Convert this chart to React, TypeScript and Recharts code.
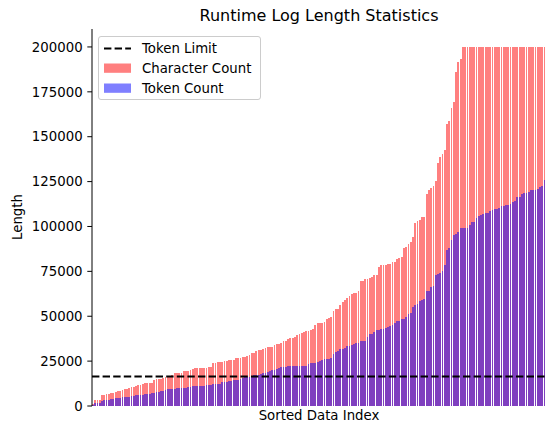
import React from 'react';
import { BarChart, Bar, XAxis, YAxis, ReferenceLine, Legend } from 'recharts';

// Character count per log, sorted (capped at 200000)
const characterCounts: number[] = [
  1100, 3300, 3300, 3600, 6100, 6100, 6500, 6700, 7000, 7400,
  7800, 8400, 8400, 8700, 9300, 9600, 10200, 10800, 10800, 11000,
  11500, 11700, 12300, 12700, 12700, 13000, 13000, 14500, 14900, 15000,
  15200, 15500, 16000, 16700, 16700, 17000, 18200, 18200, 18500, 18500,
  19500, 19700, 19700, 20000, 20700, 21000, 21000, 21000, 21000, 21000,
  21300, 21700, 21700, 23800, 24000, 24300, 24500, 24500, 24900, 25200,
  25400, 25600, 25900, 26500, 26500, 27000, 27200, 27500, 27800, 28600,
  29300, 29600, 30700, 31200, 31300, 31800, 32300, 32900, 32900, 32900,
  33900, 34500, 34500, 35200, 36000, 36400, 37300, 37700, 38000, 38600,
  39500, 40000, 40500, 41200, 41800, 41800, 42300, 42700, 45100, 46100,
  46100, 46100, 47000, 48300, 48800, 49800, 53100, 54000, 54000, 56300,
  58100, 59000, 60000, 61300, 62400, 62800, 63100, 64200, 69600, 69800,
  70600, 70600, 71100, 72000, 73000, 73000, 77600, 78500, 78500, 78500,
  78900, 78900, 80200, 80200, 82000, 82600, 83200, 87800, 88700, 90200,
  91400, 94300, 102100, 103000, 103600, 105300, 105300, 118100, 120300, 121300,
  122600, 125300, 135400, 138700, 140400, 142600, 157100, 158900, 166000, 169500,
  186200, 191800, 193100, 200000, 200000, 200000, 200000, 200000, 200000, 200000,
  200000, 200000, 200000, 200000, 200000, 200000, 200000, 200000, 200000, 200000,
  200000, 200000, 200000, 200000, 200000, 200000, 200000, 200000, 200000, 200000,
  200000, 200000, 200000, 200000, 200000, 200000, 200000, 200000, 200000, 200000,
];

// Token count per log, same order
const tokenCounts: number[] = [
  700, 1500, 1900, 1900, 3000, 3300, 3300, 3300, 3700, 4000,
  4300, 4400, 4600, 4800, 5000, 5200, 5200, 5600, 5800, 6000,
  6100, 6100, 6300, 6500, 6700, 6900, 7100, 7500, 7800, 8000,
  8200, 8400, 8800, 9300, 9400, 9500, 9700, 10000, 10000, 10000,
  10000, 10000, 10400, 10800, 11100, 11100, 11100, 11100, 11100, 11100,
  11700, 11700, 11700, 12000, 12300, 12300, 12300, 13400, 13400, 13500,
  13800, 14000, 14500, 14500, 14500, 15200, 15600, 15900, 16300, 16300,
  16300, 17100, 17100, 17100, 17700, 18200, 18500, 18900, 19600, 20000,
  20300, 20800, 21200, 21500, 21900, 21900, 22100, 22100, 22300, 22300,
  22300, 22300, 22300, 22300, 22400, 23400, 23700, 24100, 24100, 24500,
  25100, 25600, 26000, 26400, 26400, 26900, 29000, 30100, 30800, 31600,
  32000, 32300, 33400, 33400, 33800, 34500, 34900, 35300, 36000, 36400,
  36400, 38600, 40100, 40100, 41400, 42300, 42300, 42900, 42900, 43300,
  44200, 44600, 45000, 46100, 47300, 47300, 48500, 48500, 49500, 51200,
  51600, 55000, 56300, 56800, 58500, 59000, 59800, 64100, 64100, 66100,
  66800, 73000, 73500, 74300, 75400, 78500, 86900, 87800, 92500, 95300,
  95800, 96900, 99100, 99100, 99100, 99100, 101000, 102500, 102500, 104900,
  106000, 106400, 107000, 107300, 107500, 108500, 109000, 109500, 110000, 110200,
  111200, 111300, 111700, 112000, 112500, 113500, 114200, 116600, 116600, 118100,
  118800, 118800, 119000, 120300, 120300, 120300, 121000, 122200, 122600, 125900,
];

const tokenLimit = 16384;
const yTicks: number[] = [0, 25000, 50000, 75000, 100000, 125000, 150000, 175000, 200000];
const seriesLabels = { limit: 'Token Limit', chars: 'Character Count', tokens: 'Token Count' };
const titleText = 'Runtime Log Length Statistics';
const xLabelText = 'Sorted Data Index';
const yLabelText = 'Length';

const data = characterCounts.map((c, i) => ({ idx: i, chars: c, tokens: tokenCounts[i] }));

const FONT = '"DejaVu Sans", sans-serif';
const PLOT_WIDTH = 454;
const BAR_SIZE = (PLOT_WIDTH / characterCounts.length) * 0.8;

const LegendBox = () => (
  <div
    style={{
      width: 163,
      height: 64,
      boxSizing: 'border-box',
      border: '1px solid #cccccc',
      borderRadius: 3,
      background: 'rgba(255,255,255,0.8)',
      fontFamily: FONT,
      fontSize: 13.3,
      color: '#000',
      position: 'relative',
    }}
  >
    <svg width={163} height={64} style={{ position: 'absolute', left: 0, top: 0 }}>
      <line x1={5} x2={32} y1={11.5} y2={11.5} stroke="#000" strokeWidth={2} strokeDasharray="7.4 3.2" />
      <rect x={5} y={26.5} width={27} height={9.3} fill="rgba(255,0,0,0.5)" />
      <rect x={5} y={46.5} width={27} height={9.3} fill="rgba(0,0,255,0.5)" />
      <text x={43} y={11.5} dominantBaseline="central" fontFamily={FONT} fontSize={13.3} fill="#000">{seriesLabels.limit}</text>
      <text x={43} y={31.2} dominantBaseline="central" fontFamily={FONT} fontSize={13.3} fill="#000">{seriesLabels.chars}</text>
      <text x={43} y={51.2} dominantBaseline="central" fontFamily={FONT} fontSize={13.3} fill="#000">{seriesLabels.tokens}</text>
    </svg>
  </div>
);

export default function App() {
  return (
    <div style={{ position: 'absolute', left: 0, top: 0, width: 545, height: 424, overflow: 'hidden', background: '#fff' }}>
      <BarChart
        width={92 + PLOT_WIDTH + 2}
        height={424}
        data={data}
        margin={{ top: 29, right: 2, bottom: 18, left: 0 }}
        barCategoryGap="20%"
        barGap={0}
      >
        <XAxis xAxisId="c" dataKey="idx" tick={false} tickLine={false} axisLine={{ stroke: '#000', strokeWidth: 1 }} height={0} />
        <XAxis xAxisId="t" dataKey="idx" hide />
        <XAxis xAxisId="top" orientation="top" dataKey="idx" tick={false} tickLine={false} axisLine={{ stroke: '#000', strokeWidth: 1 }} height={0} />
        <YAxis
          domain={[0, 210000]}
          ticks={yTicks}
          width={92}
          tickSize={4.7}
          tickMargin={4.7}
          interval={0}
          allowDataOverflow
          axisLine={{ stroke: '#000', strokeWidth: 1 }}
          tickLine={{ stroke: '#000', strokeWidth: 1 }}
          tick={{ fontSize: 13.3, fill: '#000', fontFamily: FONT }}
        />
        <Bar xAxisId="c" dataKey="chars" name={seriesLabels.chars} fill="rgba(255,0,0,0.5)" barSize={BAR_SIZE} shapeRendering="crispEdges" isAnimationActive={false} />
        <Bar xAxisId="t" dataKey="tokens" name={seriesLabels.tokens} fill="rgba(0,0,255,0.5)" barSize={BAR_SIZE} shapeRendering="crispEdges" isAnimationActive={false} />
        <ReferenceLine xAxisId="c" y={tokenLimit} stroke="#000" strokeWidth={2} strokeDasharray="7.4 3.2" />
        <Legend
          layout="vertical"
          align="center"
          verticalAlign="middle"
          content={() => <LegendBox />}
          wrapperStyle={{ left: 98, top: 36, width: 163, height: 64 }}
        />
      </BarChart>
      <svg width={545} height={424} style={{ position: 'absolute', left: 0, top: 0, pointerEvents: 'none' }}>
        <text x={319} y={21} textAnchor="middle" fontFamily={FONT} fontSize={16} fill="#000">{titleText}</text>
        <text x={319} y={420} textAnchor="middle" fontFamily={FONT} fontSize={13.3} fill="#000">{xLabelText}</text>
        <text x={22} y={217} textAnchor="middle" fontFamily={FONT} fontSize={13.3} fill="#000" transform="rotate(-90 22 217)">{yLabelText}</text>
      </svg>
    </div>
  );
}
